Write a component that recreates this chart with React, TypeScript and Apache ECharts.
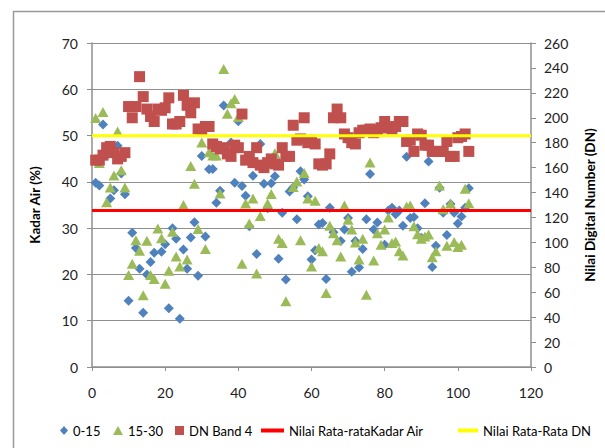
import React, { useEffect, useRef } from "react";
import * as echarts from "echarts";

// Kadar air tanah kedalaman 0-15 cm  [nomor titik, %]
const kadarAir0_15: [number, number][] = [
  [1, 39.8], [2, 39.2], [3, 52.4], [4, 45.7], [5, 36.4], [6, 38.2], [7, 47.8], [8, 41.8], [9, 37.3],
  [10, 14.3], [11, 29.0], [12, 25.7], [13, 21.2], [14, 11.7], [15, 20.0], [16, 22.7], [17, 24.7],
  [19, 24.9], [20, 26.5], [21, 12.7], [22, 30.0], [23, 27.7], [24, 10.4], [25, 25.4], [26, 21.2],
  [27, 28.0], [28, 31.3], [29, 19.7], [30, 45.6], [31, 28.2], [32, 42.7], [33, 42.8], [34, 35.5],
  [35, 38.1], [36, 56.5], [38, 48.5], [39, 39.8], [40, 53.1], [41, 39.1], [42, 37.0], [43, 30.4],
  [44, 41.3], [45, 24.4], [46, 48.2], [47, 39.6], [48, 34.3], [49, 39.7], [50, 41.2], [51, 23.4],
  [52, 33.3], [53, 18.9], [54, 37.9], [55, 38.8], [56, 31.9], [57, 42.3], [58, 40.5], [59, 36.9],
  [60, 23.2], [61, 25.2], [62, 30.8], [63, 31.1], [64, 19.0], [65, 34.4], [66, 29.1], [68, 27.2],
  [69, 29.7], [70, 32.2], [71, 20.6], [72, 27.2], [73, 21.5], [74, 25.5], [75, 31.9], [76, 41.7],
  [77, 29.7], [78, 31.2], [80, 26.4], [81, 33.8], [82, 34.4], [83, 33.0], [84, 33.8], [85, 30.5],
  [86, 45.4], [87, 32.2], [88, 32.4], [89, 30.0], [90, 27.9], [91, 35.4], [92, 44.4], [93, 21.6],
  [94, 26.2], [95, 38.7], [96, 33.3], [97, 28.5], [98, 35.2], [99, 33.3], [100, 31.0], [101, 32.5],
  [102, 34.4], [103, 38.6],
];

// Kadar air tanah kedalaman 15-30 cm  [nomor titik, %]
const kadarAir15_30: [number, number][] = [
  [1, 53.8], [2, 44.1], [3, 55.1], [4, 35.6], [5, 38.8], [6, 41.4], [7, 50.9], [8, 42.5], [9, 38.8],
  [10, 19.9], [11, 22.3], [12, 27.4], [13, 25.1], [14, 15.5], [15, 27.3], [16, 19.9], [17, 19.0],
  [18, 29.9], [19, 27.8], [20, 18.0], [21, 20.8], [22, 29.2], [23, 23.9], [24, 21.7], [25, 35.0],
  [26, 23.2], [27, 43.4], [28, 39.6], [29, 29.8], [30, 48.5], [31, 25.5], [32, 46.4], [33, 45.7],
  [34, 45.7], [35, 37.5], [36, 64.4], [37, 54.7], [38, 57.0], [39, 57.9], [40, 54.0], [41, 22.3],
  [42, 35.3], [43, 31.0], [44, 36.4], [45, 20.2], [46, 32.6], [48, 35.3], [49, 37.4], [50, 46.2],
  [51, 27.7], [52, 26.8], [53, 14.2], [55, 38.9], [56, 40.1], [57, 27.4], [58, 41.9], [59, 36.4],
  [60, 21.7], [61, 35.9], [62, 25.7], [63, 25.0], [64, 16.0], [65, 30.5], [66, 28.9], [67, 27.4],
  [68, 23.9], [69, 34.9], [70, 31.8], [71, 29.7], [72, 26.9], [73, 23.2], [74, 27.7], [75, 15.6],
  [76, 44.2], [77, 23.0], [78, 28.9], [79, 26.4], [80, 29.7], [81, 32.3], [82, 26.8], [83, 27.1],
  [84, 25.0], [85, 24.1], [86, 34.7], [87, 34.9], [88, 30.4], [89, 28.7], [90, 27.7], [91, 28.2],
  [92, 28.6], [93, 23.7], [94, 25.0], [95, 39.2], [96, 34.1], [97, 26.2], [98, 35.3], [99, 27.0],
  [100, 25.9], [101, 26.4], [102, 38.5], [103, 35.4],
];

// Nilai digital number citra band 4  [nomor titik, DN]
const dnBand4: [number, number][] = [
  [1, 166], [2, 166], [3, 170], [4, 176], [5, 177], [6, 172], [7, 167], [8, 169], [9, 172],
  [10, 209], [11, 200], [12, 209], [13, 233], [14, 217], [15, 207], [16, 201], [17, 197], [18, 207],
  [19, 206], [20, 208], [21, 216], [22, 195], [23, 195], [24, 197], [25, 218], [26, 210], [27, 204],
  [28, 212], [29, 191], [30, 190], [31, 193], [32, 193], [33, 179], [34, 177], [35, 175], [36, 176],
  [37, 171], [38, 169], [39, 178], [40, 176], [41, 203], [42, 166], [43, 169], [44, 164], [45, 176],
  [46, 162], [47, 160], [48, 164], [49, 167], [50, 163], [51, 162], [52, 176], [53, 169], [54, 169],
  [55, 194], [56, 182], [57, 183], [58, 200], [59, 180], [60, 182], [61, 179], [62, 163], [63, 162],
  [64, 163], [65, 171], [66, 200], [67, 207], [68, 200], [69, 187], [70, 184], [71, 180], [72, 179],
  [73, 188], [74, 190], [75, 190], [76, 191], [77, 188], [78, 190], [79, 192], [80, 197], [81, 192],
  [82, 191], [83, 193], [84, 197], [85, 197], [86, 181], [87, 182], [88, 173], [89, 187], [90, 186],
  [91, 178], [92, 178], [93, 173], [94, 173], [95, 173], [96, 173], [97, 181], [98, 169], [99, 169],
  [100, 184], [101, 185], [102, 187], [103, 173],
];

// Garis nilai rata-rata
const rataKadarAir = 33.8;
const rataDN = 185.5;

const xTicks = { min: 0, max: 120, interval: 20 };
const yLeftTicks = { min: 0, max: 70, interval: 10 };
const yRightTicks = { min: 0, max: 260, interval: 20 };

const FONT = "Lato, 'Liberation Sans', sans-serif";
const GRID_GRAY = "#8f8f8f";

export default function App() {
  const ref = useRef<HTMLDivElement>(null);

  useEffect(() => {
    if (!ref.current) return;
    const chart = echarts.init(ref.current, null, { renderer: "svg" });

    const legendText = { fontFamily: FONT, fontSize: 13, color: "#000" };
    const mkLegend = (name: string, left: number, icon: string, w: number, h: number) => ({
      data: [{ name, icon }],
      left,
      top: 424,
      padding: 0,
      itemWidth: w,
      itemHeight: h,
      textStyle: legendText,
      selectedMode: false,
    });

    const tickLabel = { color: "#222", fontSize: 14, fontFamily: FONT };
    const axisName = { fontFamily: FONT, fontSize: 13.5, fontWeight: "bold", color: "#000" };

    chart.setOption({
      animation: false,
      backgroundColor: "#fff",
      textStyle: { fontFamily: FONT },
      graphic: [
        {
          type: "rect",
          shape: { x: 13.5, y: 11.5, width: 640, height: 480 },
          style: { fill: "none", stroke: "#9a9a9a", lineWidth: 1.5 },
          silent: true,
        },
      ],
      grid: { left: 92, right: 73, top: 43, bottom: 81 },
      legend: [
        mkLegend("0-15", 60, "diamond", 8, 9),
        mkLegend("15-30", 113, "triangle", 10, 9),
        mkLegend("DN Band 4", 175, "rect", 9, 9),
        mkLegend("Nilai Rata-rataKadar Air", 261, "rect", 23, 4),
        mkLegend("Nilai Rata-Rata DN", 458, "rect", 20, 4),
      ],
      xAxis: {
        type: "value",
        ...xTicks,
        axisLine: { show: true, onZero: false, lineStyle: { color: GRID_GRAY, width: 1.5 } },
        axisTick: { show: true, length: 4, lineStyle: { color: GRID_GRAY } },
        axisLabel: { ...tickLabel, margin: 18 },
        splitLine: { show: false },
      },
      yAxis: [
        {
          type: "value",
          ...yLeftTicks,
          name: "Kadar Air (%)",
          nameLocation: "middle",
          nameGap: 50,
          nameTextStyle: axisName,
          axisLine: { show: true, lineStyle: { color: GRID_GRAY, width: 1.5 } },
          axisTick: { show: true, length: 5, lineStyle: { color: GRID_GRAY } },
          axisLabel: { ...tickLabel, margin: 14 },
          splitLine: { show: true, lineStyle: { color: GRID_GRAY, width: 1.2 } },
        },
        {
          type: "value",
          ...yRightTicks,
          position: "right",
          name: "Nilai Digital Number (DN)",
          nameLocation: "middle",
          nameGap: 52,
          nameRotate: 90,
          nameTextStyle: axisName,
          axisLine: { show: true, lineStyle: { color: GRID_GRAY, width: 1.5 } },
          axisTick: { show: true, length: 5, lineStyle: { color: GRID_GRAY } },
          axisLabel: { ...tickLabel, margin: 13 },
          splitLine: { show: false },
        },
      ],
      series: [
        {
          name: "0-15",
          type: "scatter",
          yAxisIndex: 0,
          symbol: "diamond",
          symbolSize: [10, 10],
          itemStyle: { color: "#4F81BD", opacity: 1 },
          data: kadarAir0_15,
        },
        {
          name: "15-30",
          type: "scatter",
          yAxisIndex: 0,
          symbol: "triangle",
          symbolSize: [11, 10],
          itemStyle: { color: "#9BBB59", opacity: 1 },
          data: kadarAir15_30,
        },
        {
          name: "DN Band 4",
          type: "scatter",
          yAxisIndex: 1,
          symbol: "rect",
          symbolSize: [11, 11],
          itemStyle: { color: "#C0504D", opacity: 1 },
          data: dnBand4,
        },
        {
          name: "Nilai Rata-rataKadar Air",
          type: "line",
          yAxisIndex: 0,
          symbol: "none",
          color: "#FF0000",
          lineStyle: { color: "#FF0000", width: 3 },
          data: [
            [xTicks.min, rataKadarAir],
            [xTicks.max, rataKadarAir],
          ],
        },
        {
          name: "Nilai Rata-Rata DN",
          type: "line",
          yAxisIndex: 1,
          symbol: "none",
          color: "#FFFF00",
          lineStyle: { color: "#FFFF00", width: 3 },
          data: [
            [xTicks.min, rataDN],
            [xTicks.max, rataDN],
          ],
        },
      ],
    });

    return () => chart.dispose();
  }, []);

  return (
    <div
      ref={ref}
      style={{ position: "fixed", left: 0, top: 0, width: 605, height: 448 }}
    />
  );
}
